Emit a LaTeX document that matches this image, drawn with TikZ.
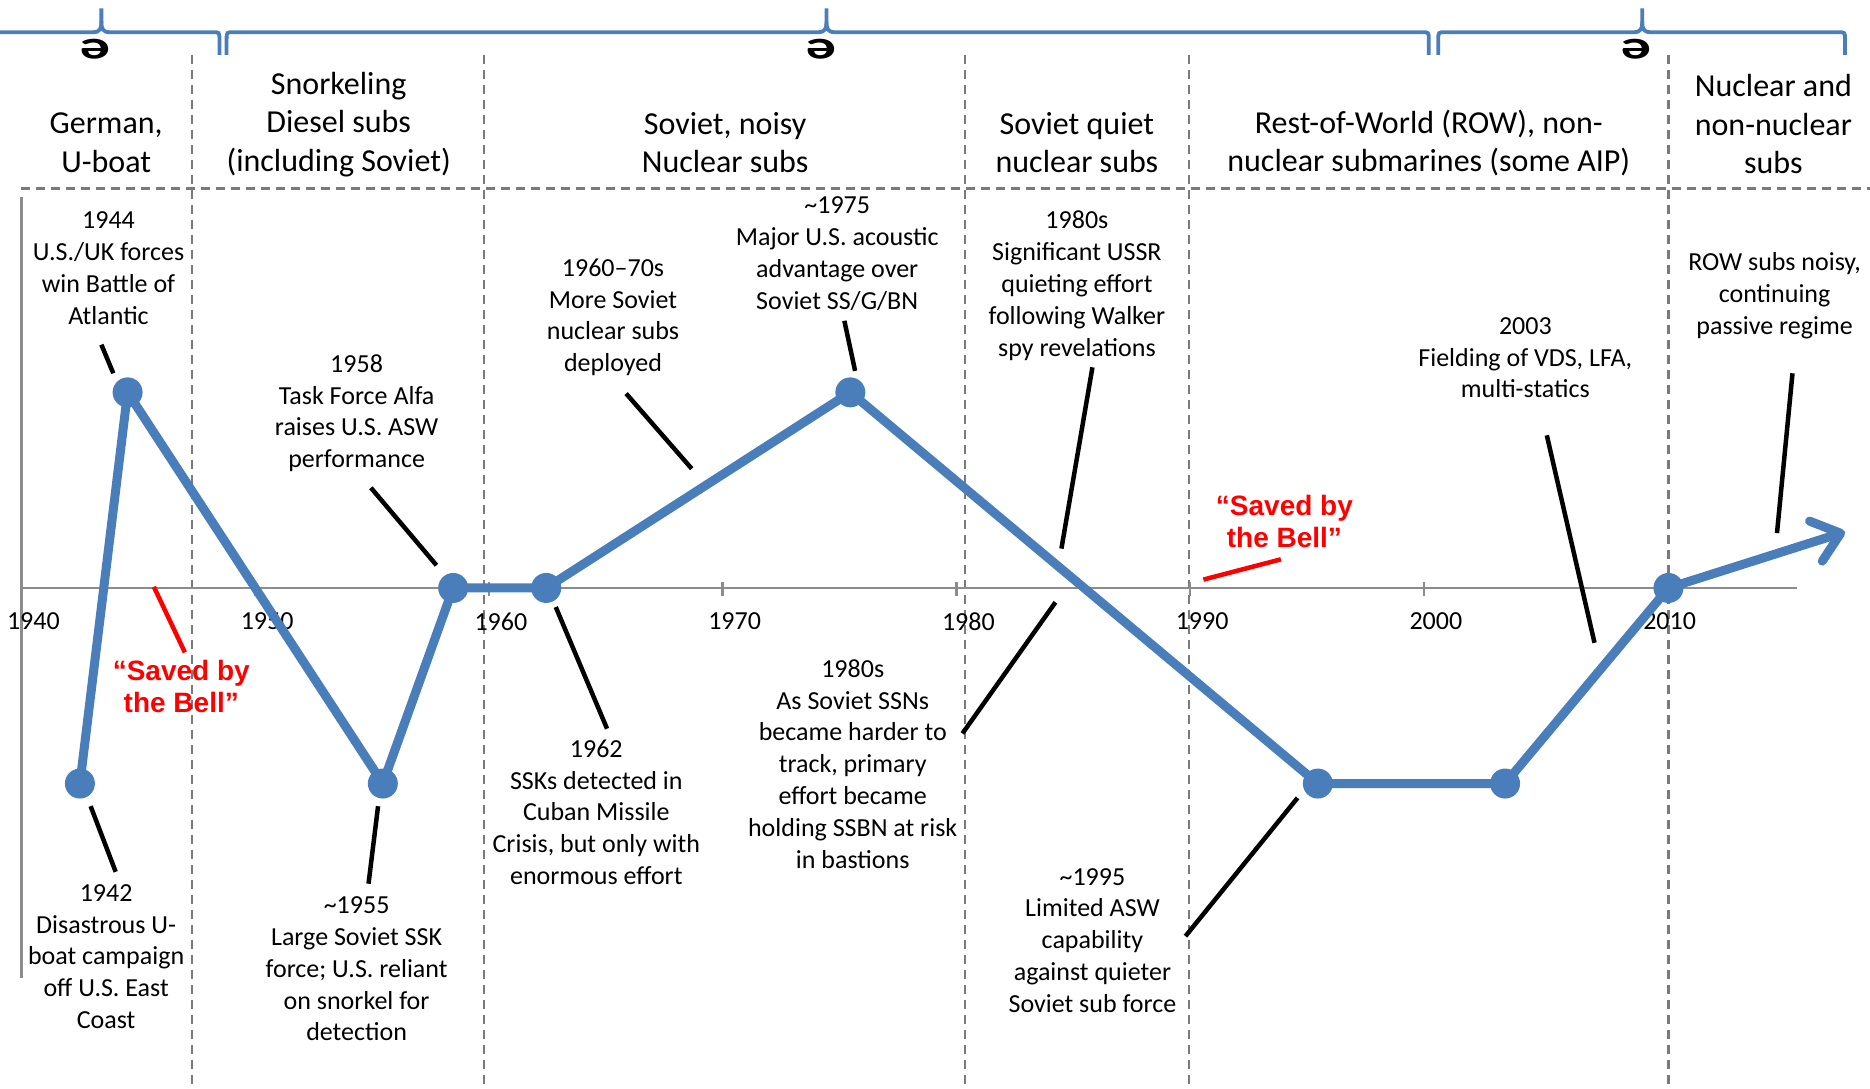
\documentclass[tikz,border=0pt]{standalone}
\usepackage{fontspec}
\setmainfont{Carlito}
\newfontfamily\redfont{Liberation Sans}
\usetikzlibrary{arrows.meta}
\definecolor{lineblue}{HTML}{4A7EBB}
\definecolor{gridgray}{HTML}{7A7A7A}
\definecolor{axisgray}{HTML}{8C8C8C}
\tikzset{
  bodytxt/.style={align=center, inner sep=0pt, font=\fontsize{26}{31.8}\selectfont},
  headtxt/.style={align=center, inner sep=0pt, font=\fontsize{32}{38.8}\selectfont},
  redtxt/.style={align=center, inner sep=0pt, text=red, font=\redfont\bfseries\fontsize{28}{32}\selectfont},
  yeartxt/.style={inner sep=0pt, font=\fontsize{26}{31}\selectfont},
  etxt/.style={inner sep=0pt, rotate=180, font=\bfseries\fontsize{40}{44}\selectfont},
  dot/.style={circle, fill=lineblue, inner sep=0pt, minimum size=30pt},
  trend/.style={draw=lineblue, line width=9pt, line join=round},
  callout/.style={draw=black, line width=4.5pt},
  redline/.style={draw=red, line width=4.5pt},
  divider/.style={draw=gridgray, line width=2.4pt, dash pattern=on 9pt off 6pt},
  axisline/.style={draw=axisgray, line width=2.5pt},
  bracepath/.style={draw=lineblue, line width=3.8pt},
}
\begin{document}
\begin{tikzpicture}[x=1.1926pt, y=-1.1926pt]
\useasboundingbox (0,0) rectangle (1568,913);
\fill[white] (0,0) rectangle (1568,913);

% dividers
\foreach \xx in {161,406,809,997,1399} \draw[divider] (\xx,46) -- (\xx,913);
\draw[divider] (18,158) -- (1568,158);

% axes
\draw[axisline] (18,165) -- (18,820);
\draw[axisline] (18,493) -- (1507,493);
\foreach \xx in {214,410,606,802,998,1194,1390} \draw[axisline] (\xx,488) -- (\xx,500);

% year labels
\node[yeartxt] (y1940) at (28,521) {1940};
\node[yeartxt] (y1950) at (224,521) {1950};
\node[yeartxt] (y1960) at (420,521) {1960};
\node[yeartxt] (y1970) at (616,521) {1970};
\node[yeartxt] (y1980) at (812,521) {1980};
\node[yeartxt] (y1990) at (1008,521) {1990};
\node[yeartxt] (y2000) at (1204,521) {2000};
\node[yeartxt] (y2010) at (1400,521) {2010};

% braces
\draw[bracepath] (-10,27) -- (78,27) .. controls (84,27) and (85,24) .. (85,18) -- (85,7);
\draw[bracepath] (85,18) .. controls (85,24) and (86,27) .. (92,27) -- (178,27) .. controls (184,27) .. (184,33) -- (184,46);
\draw[bracepath] (190,46) -- (190,33) .. controls (190,27) .. (196,27) -- (686,27) .. controls (692,27) and (693,24) .. (693,18) -- (693,7);
\draw[bracepath] (693,18) .. controls (693,24) and (694,27) .. (700,27) -- (1192,27) .. controls (1198,27) .. (1198,33) -- (1198,46);
\draw[bracepath] (1206,46) -- (1206,33) .. controls (1206,27) .. (1212,27) -- (1370,27) .. controls (1376,27) and (1377,24) .. (1377,18) -- (1377,7);
\draw[bracepath] (1377,18) .. controls (1377,24) and (1378,27) .. (1384,27) -- (1541,27) .. controls (1547,27) .. (1547,33) -- (1547,46);
\node[etxt] (e1) at (80,41) {\scalebox{1.5}[1.0]{e}};
\node[etxt] (e2) at (689,41) {\scalebox{1.5}[1.0]{e}};
\node[etxt] (e3) at (1372,41) {\scalebox{1.5}[1.0]{e}};

% headers
\node[headtxt] (h1) at (89,119.5) {German,\\U-boat};
\node[headtxt] (h2) at (284,104.5) {Snorkeling\\Diesel subs\\(including Soviet)};
\node[headtxt] (h3) at (608,119.5) {Soviet, noisy\\Nuclear subs};
\node[headtxt] (h4) at (903,119.5) {Soviet quiet\\nuclear subs};
\node[headtxt] (h5) at (1198,120) {Rest-of-World (ROW), non-\\nuclear submarines (some AIP)};
\node[headtxt] (h6) at (1487,104) {Nuclear and\\non-nuclear\\subs};

% event texts
\node[bodytxt] (t1944) at (91,225) {1944\\U.S./UK forces\\win Battle of\\Atlantic};
\node[bodytxt] (t1942) at (89,802) {1942\\Disastrous U-\\boat campaign\\off U.S. East\\Coast};
\node[bodytxt] (t1958) at (299,346.5) {1958\\Task Force Alfa\\raises U.S. ASW\\performance};
\node[bodytxt] (t1955) at (299,812.5) {\textasciitilde1955\\Large Soviet SSK\\force; U.S. reliant\\on snorkel for\\detection};
\node[bodytxt] (t1960) at (514,266) {1960–70s\\More Soviet\\nuclear subs\\deployed};
\node[bodytxt] (t1962) at (500,681) {1962\\SSKs detected in\\Cuban Missile\\Crisis, but only with\\enormous effort};
\node[bodytxt] (t1975) at (702,212.5) {\textasciitilde1975\\Major U.S. acoustic\\advantage over\\Soviet SS/G/BN};
\node[bodytxt] (t1980a) at (903,239.5) {1980s\\Significant USSR\\quieting effort\\following Walker\\spy revelations};
\node[bodytxt] (t1980b) at (715,640.5) {1980s\\As Soviet SSNs\\became harder to\\track, primary\\effort became\\holding SSBN at risk\\in bastions};
\node[bodytxt] (t1995) at (916,788.5) {\textasciitilde1995\\Limited ASW\\capability\\against quieter\\Soviet sub force};
\node[bodytxt] (t2003) at (1279,300) {2003\\Fielding of VDS, LFA,\\multi-statics};
\node[bodytxt] (trow) at (1488,248) {ROW subs noisy,\\continuing\\passive regime};

% red texts
\node[redtxt] (r1) at (152,576) {“Saved by\\the Bell”};
\node[redtxt] (r2) at (1077,437) {“Saved by\\the Bell”};

% data points
\node[dot] (p1) at (67,657) {};
\node[dot] (p2) at (107,329) {};
\node[dot] (p3) at (321,657) {};
\node[dot] (p4) at (380,493) {};
\node[dot] (p5) at (458,493) {};
\node[dot] (p6) at (713,329) {};
\node[dot] (p7) at (1105,657) {};
\node[dot] (p8) at (1262,657) {};
\node[dot] (p9) at (1399,493) {};
\coordinate (tip) at (1547,446);

\draw[trend] (p1.center) -- (p2.center) -- (p3.center) -- (p4.center) -- (p5.center) -- (p6.center) -- (p7.center) -- (p8.center) -- (p9.center);
\draw[trend, -{Straight Barb[length=26pt, width=42pt, line cap=round, line join=round]}] (p9.center) -- (tip);

% callout lines
\coordinate (a1) at (85,289); \coordinate (b1) at (95,313);
\coordinate (a2) at (76,676); \coordinate (b2) at (97,731);
\coordinate (a3) at (311,409); \coordinate (b3) at (366,474);
\coordinate (a4) at (317,676); \coordinate (b4) at (309,741);
\coordinate (a5) at (525,330); \coordinate (b5) at (580,393);
\coordinate (a6) at (466,509); \coordinate (b6) at (509,611);
\coordinate (a7) at (708,269); \coordinate (b7) at (717,311);
\coordinate (a8) at (916,308); \coordinate (b8) at (890,460);
\coordinate (a9) at (885,505); \coordinate (b9) at (807,615);
\coordinate (a10) at (1088,669); \coordinate (b10) at (994,785);
\coordinate (a11) at (1297,365); \coordinate (b11) at (1337,539);
\coordinate (a12) at (1503,313); \coordinate (b12) at (1490,447);
\foreach \i in {1,...,12} \draw[callout] (a\i) -- (b\i);

% red lines
\coordinate (ra1) at (129,492); \coordinate (rb1) at (155,547);
\coordinate (ra2) at (1009,486); \coordinate (rb2) at (1074,469);
\draw[redline] (ra1) -- (rb1);
\draw[redline] (ra2) -- (rb2);
\end{tikzpicture}
\end{document}
